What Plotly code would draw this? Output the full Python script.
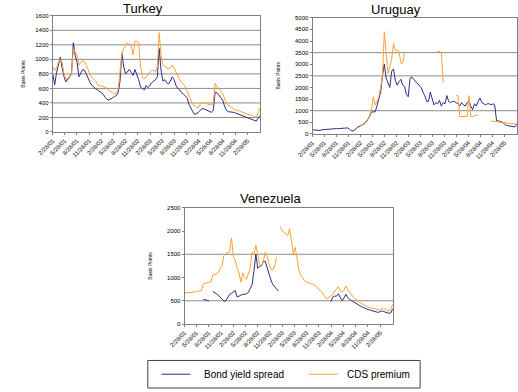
import pandas as pd
import plotly.graph_objects as go

# ---------------- data ----------------
DATES = pd.date_range("2001-02-28", periods=112, freq="14D")

TICK_DATES = ["2001-02-28", "2001-05-28", "2001-08-28", "2001-11-28",
              "2002-02-28", "2002-05-28", "2002-08-28", "2002-11-28",
              "2003-02-28", "2003-05-28", "2003-08-28", "2003-11-28",
              "2004-02-28", "2004-05-28", "2004-08-28", "2004-11-28",
              "2005-02-28"]
TICK_LABELS = ["2/28/01", "5/28/01", "8/28/01", "11/28/01",
               "2/28/02", "5/28/02", "8/28/02", "11/28/02",
               "2/28/03", "5/28/03", "8/28/03", "11/28/03",
               "2/28/04", "5/28/04", "8/28/04", "11/28/04",
               "2/28/05"]

N = None

TURKEY_BOND = [800, 650, 820, 950, 1030, 880, 760, 690, 720, 760,
               800, 1230, 1050, 960, 760, 820, 860, 850, 780, 740,
               680, 640, 620, 590, 580, 560, 540, 520, 480, 450,
               440, 450, 470, 490, 500, 540, 700, 1080, 900, 800,
               830, 860, 820, 780, 860, 800, 720, 620, 600, 580,
               640, 610, 640, 680, 700, 720, 760, 1150, 850, 700,
               720, 680, 660, 700, 760, 720, 640, 600, 580, 540,
               520, 500, 470, 380, 320, 280, 240, 250, 270, 300,
               320, 320, 310, 300, 280, 270, 300, 550, 540, 510,
               480, 440, 360, 300, 280, 280, 270, 270, 260, 250,
               240, 230, 220, 210, 200, 200, 190, 180, 160, 150,
               190, 220]
TURKEY_CDS = [900, 850, 880, 960, 1000, 950, 800, 720, 740, 770,
              800, 1150, 1100, 1050, 920, 960, 980, 970, 920, 850,
              790, 750, 720, 700, 650, 630, 640, 630, 620, 600,
              570, 550, 540, 530, 540, 580, 800, 1080, 1150, 1200,
              1230, 1200, 1190, 1060, 1250, 1250, 1230, 900, 760, 730,
              760, 790, 820, 850, 850, 830, 900, 1370, 1050, 930,
              900, 880, 870, 880, 920, 880, 820, 760, 720, 680,
              660, 620, 560, 480, 430, 380, 360, 340, 330, 380,
              410, 400, 390, 380, 370, 370, 400, 670, 620, 600,
              570, 530, 450, 400, 370, 350, 330, 320, 300, 300,
              290, 280, 260, 250, 240, 240, 230, 230, 220, 200,
              260, 330]

URUGUAY_BOND = [180, 170, 160, 170, 150, 180, 190, 200, 200, 210,
                210, 220, 220, 230, 230, 240, 250, 260, 270, 260,
                220, 140, 130, 170, 270, 310, 340, 380, 430, 500,
                600, 750, 950, 950, 950, 1200, 1450, 1800, 2500, 3000,
                2400, 2200, 2000, 2700, 2800, 2300, 2100, 2250, 2350, 2100,
                2050, 1700, 1600, 2400, 2450, 2350, 2250, 2150, 2050, 2000,
                1800, 1650, 1400, 1400, 1800, 1500, 1250, 1350, 1300, 1450,
                1200, 1350, 1300, 1650, 1400, 1350, 1400, 1400, 1350, 1300,
                1200, 1350, 1250, 1200, 1350, 1400, 1200, 1050, 1300, 1200,
                1400, 1550, 1350, 1300, 1250, 1300, 1300, 1250, 1300, 1250,
                580, 560, 550, 520, 450, 380, 360, 340, 330, 310,
                300, 420]
URUGUAY_CDS = [N, N, N, N, N, N, N, N, N, N,
               N, N, N, N, N, N, N, N, N, N,
               N, N, N, N, N, N, 340, 400, 450, 550,
               620, 800, 1000, 1600, 1250, 1400, 1600, 2000, 2500, 4400,
               3300, 2600, 2900, 3200, 3900, 3600, 3600, 3550, 3050, 3050,
               3500, N, N, N, N, N, N, N, N, N,
               N, N, N, N, N, N, N, N, 3550, 3550,
               3500, 2200, N, N, N, N, N, N, 1650, 1650,
               750, 750, 750, 750, 750, 1650, 750, 750, 780, 800,
               800, N, 700, N, 700, N, N, 560, 550, 550,
               550, 540, 540, 530, 520, 480, 470, 450, 440, 420,
               430, 480]

VENEZUELA_BOND = [N, N, N, N, N, N, N, N, N, N,
                  530, 520, 510, 500, N, 700, 680, 650, 620, 580,
                  520, 490, 500, 560, 640, 660, 700, 720, 580, 600,
                  620, 640, 640, 650, 680, 760, 850, 1150, 1500, 1200,
                  1240, 1250, 1350, 1350, 1200, 1050, 950, 850, 800, 760,
                  710, N, N, N, N, N, N, N, N, N,
                  N, N, N, N, N, N, N, N, N, N,
                  N, N, N, N, N, N, N, N, 480, 580,
                  600, 600, 650, 560, 500, 560, 640, 570, 530, 500,
                  480, 450, 430, 410, 380, 360, 340, 320, 310, 300,
                  290, 280, 270, 250, 260, 280, 270, 260, 250, 230,
                  240, 330]
VENEZUELA_CDS = [670, 670, 670, 670, 680, 690, 700, 700, 710, 720,
                 860, 880, 890, 900, 900, 1050, 1060, 1080, 1100, 1200,
                 1250, 1480, 1520, 1530, 1550, 1850, 1450, 1380, 1200, 1100,
                 900, 1100, 1000, 960, 1100, 1200, 1550, 1500, 1700, 1450,
                 1280, 1260, 1350, 1550, 1450, 1300, 1180, 1160, 1250, 1420,
                 N, 2100, 2000, 1980, 1950, 1900, 2050, 1800, 1500, 1650,
                 1350, 1150, 1050, 1000, 920, 900, 880, 870, 860, 850,
                 820, 760, 720, 700, 620, 570, 550, 570, 600, 650,
                 700, 740, 800, 720, 680, 720, 820, 740, 680, 640,
                 580, 540, 520, 480, 450, 420, 400, 380, 360, 350,
                 340, 340, 320, 310, 300, 320, 330, 320, 300, 280,
                 330, 420]

COUNTRIES = ["Turkey", "Uruguay", "Venezuela"]
SERIES_NAMES = ["Bond yield spread", "CDS premium"]
Y_MAX = [1600, 5000, 2500]
Y_STEP = [200, 500, 500]
GRID_VALUES = [[200, 400, 600, 800, 1000, 1200, 1400],
               [1000, 2500, 3500],
               [500, 1500]]
BOND = [TURKEY_BOND, URUGUAY_BOND, VENEZUELA_BOND]
CDS = [TURKEY_CDS, URUGUAY_CDS, VENEZUELA_CDS]

# ---------------- style ----------------
W, H = 518, 392
BOND_COLOR = "#2E2C86"
CDS_COLOR = "#FFA033"
COLORS = [BOND_COLOR, CDS_COLOR]
FONT = "Liberation Sans, Arial, sans-serif"

# positions in page pixels: plot areas (left, right, top, bottom)
AREAS = [(38, 252, 13, 131), (306, 517, 15, 133), (174, 389, 208, 326)]
TITLE_POS = [(131, 6), (392, 7), (263, 199)]
YTITLE_POS = [(7, 72), (270, 74), (138, 267)]
LEGEND_BOX = (136, 363, 417, 391)
LEGEND_LINES = [(150, 180), (302, 332)]
LEGEND_TEXT_X = [192, 340]


def px_x(v):
    return v / W


def px_y(v):
    return 1 - v / H


fig = go.Figure()
for k in range(3):
    xa = "x" if k == 0 else f"x{k + 1}"
    ya = "y" if k == 0 else f"y{k + 1}"
    fig.add_trace(go.Scatter(x=DATES, y=BOND[k], mode="lines", name=SERIES_NAMES[0],
                             line=dict(color=BOND_COLOR, width=1), xaxis=xa, yaxis=ya,
                             showlegend=False))
    fig.add_trace(go.Scatter(x=DATES, y=CDS[k], mode="lines", name=SERIES_NAMES[1],
                             line=dict(color=CDS_COLOR, width=1), xaxis=xa, yaxis=ya,
                             showlegend=False))

layout = dict(width=W, height=H, margin=dict(l=0, r=0, t=0, b=0),
              paper_bgcolor="white", plot_bgcolor="white",
              font=dict(family=FONT, color="black"), showlegend=False)
shapes = []
annotations = []
for k in range(3):
    l, r, t, b = AREAS[k]
    suf = "" if k == 0 else str(k + 1)
    layout["xaxis" + suf] = dict(
        domain=[px_x(l), min(1.0, px_x(r))], anchor="y" + suf, type="date",
        range=["2001-02-28", "2005-06-03"], tickvals=TICK_DATES, ticktext=TICK_LABELS,
        tickangle=-45, tickfont=dict(size=6), showgrid=False, zeroline=False,
        showline=True, linecolor="#808080", linewidth=1, mirror=True,
        ticks="outside", ticklen=2, tickcolor="#808080")
    layout["yaxis" + suf] = dict(
        domain=[px_y(b), px_y(t)], anchor="x" + suf, range=[0, Y_MAX[k]],
        dtick=Y_STEP[k], tick0=0, tickfont=dict(size=6), showgrid=False, zeroline=False,
        showline=True, linecolor="#808080", linewidth=1, mirror=True,
        ticks="outside", ticklen=2, tickcolor="#808080")
    for g in GRID_VALUES[k]:
        shapes.append(dict(type="line", xref=f"x{suf} domain", yref="y" + suf,
                           x0=0, x1=1, y0=g, y1=g, layer="below",
                           line=dict(color="#8C8C8C", width=1)))
    tx, ty = TITLE_POS[k]
    annotations.append(dict(text=COUNTRIES[k], x=px_x(tx), y=px_y(ty), xref="paper", yref="paper",
                            showarrow=False, font=dict(size=13), xanchor="center", yanchor="middle"))
    yx, yy = YTITLE_POS[k]
    annotations.append(dict(text="Basis Points", x=px_x(yx), y=px_y(yy), xref="paper", yref="paper",
                            showarrow=False, font=dict(size=5), textangle=-90,
                            xanchor="center", yanchor="middle"))

# legend box drawn in paper space
bx0, by0, bx1, by1 = LEGEND_BOX
shapes.append(dict(type="rect", xref="paper", yref="paper",
                   x0=px_x(bx0), x1=px_x(bx1), y0=px_y(by1), y1=px_y(by0),
                   line=dict(color="#404040", width=1), fillcolor="white"))
ly = (by0 + by1) / 2
for j in range(2):
    x0, x1 = LEGEND_LINES[j]
    shapes.append(dict(type="line", xref="paper", yref="paper",
                       x0=px_x(x0), x1=px_x(x1), y0=px_y(ly), y1=px_y(ly),
                       line=dict(color=COLORS[j], width=1)))
    annotations.append(dict(text=SERIES_NAMES[j], x=px_x(LEGEND_TEXT_X[j]), y=px_y(ly),
                            xref="paper", yref="paper", showarrow=False, font=dict(size=10),
                            xanchor="left", yanchor="middle"))

layout["shapes"] = shapes
layout["annotations"] = annotations
fig.update_layout(**layout)
# remove the browser's default 8px page margin so the figure fills the window exactly
fig.write_html("out.html", config={"displayModeBar": False},
               post_script="document.body.style.margin='0px';")
